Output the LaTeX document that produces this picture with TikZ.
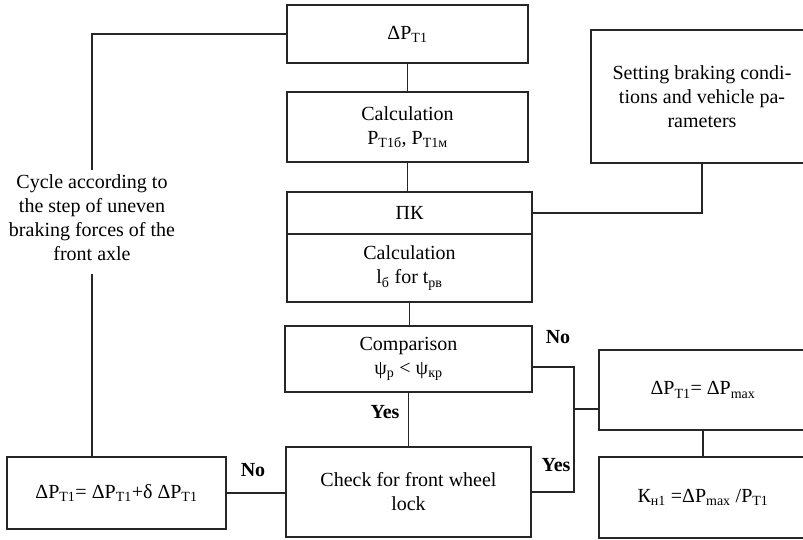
\documentclass[tikz,border=0pt]{standalone}
\usepackage{fontspec}
\setmainfont{Liberation Serif}
\usepackage{xcolor}

\begin{document}
\begin{tikzpicture}[x=1pt,y=-1pt,line width=1.4pt,draw=black!85,
        every node/.style={font=\fontsize{20}{24}\selectfont},
        blk/.style={draw=black!85,rectangle,align=center,inner sep=2pt},
        ans/.style={font=\fontsize{20}{24}\selectfont\bfseries}]
            \useasboundingbox (0,0) rectangle (803,540);
            % main column
            \node[blk,minimum width=241pt,minimum height=58pt] (dp) at (407.5,34) {ΔP\textsubscript{T1}};
            \node[blk,minimum width=241pt,minimum height=70pt] (calc1) at (407.5,127) {Calculation\\P\textsubscript{T1б}, P\textsubscript{T1м}};
            \node[blk,minimum width=245pt,minimum height=42pt] (pk) at (409.5,213) {ПК};
            \node[blk,minimum width=245pt,minimum height=68pt] (calc2) at (409.5,268) {Calculation\\l\textsubscript{б} for t\textsubscript{рв}};
            \node[blk,minimum width=247pt,minimum height=66pt] (cmp) at (408.5,359) {Comparison\\ψ\textsubscript{р} < ψ\textsubscript{кр}};
            \node[blk,minimum width=245pt,minimum height=90pt] (chk) at (408.5,492) {Check for front wheel\\lock};
            % right side
            \node[blk,minimum width=222pt,minimum height=133pt] (set) at (702,96.5) {Setting braking condi-\\tions and vehicle pa-\\rameters};
            \node[blk,minimum width=208pt,minimum height=80pt] (dmax) at (703,390) {ΔP\textsubscript{T1}= ΔP\textsubscript{max}};
            \node[blk,minimum width=208pt,minimum height=81pt] (kn) at (703,497.5) {К\textsubscript{н1} =ΔP\textsubscript{max} /P\textsubscript{T1}};
            % left side
            \node[blk,minimum width=219pt,minimum height=72pt] (dpl) at (116.5,493) {ΔP\textsubscript{T1}= ΔP\textsubscript{T1}+δ ΔP\textsubscript{T1}};
            \node[align=center,inner sep=0pt] (cyc) at (92,218) {Cycle according to\\the step of uneven\\braking forces of the\\front axle};
            \coordinate (jn) at (574,367);
            \coordinate (jm) at (574,409);
            \coordinate (jy) at (574,492);
            % connectors
            \draw (dp) -- (calc1);
            \draw (calc1.south) -- (calc1.south |- pk.north);
            \draw (calc2.south) -- (calc2.south |- cmp.north);
            \draw (cmp.south) -- (cmp.south |- chk.north);
            \draw (pk.east) -| (set.south);
            \draw (cmp.east |- jn) -- (jn) -- (jy) -- (chk.east |- jy);
            \draw (jm) -- (jm -| dmax.west);
            \draw (dmax) -- (kn);
            \draw (dpl.east) -- (dpl.east -| chk.west);
            \draw[shorten <=4pt] (cyc.north) |- (dp.west);
            \draw[shorten <=12pt] (cyc.south) -- (cyc.south |- dpl.north);
            % answers
            \node[ans] (no1) at (558,337) {No};
            \node[ans] (yes1) at (385,412) {Yes};
            \node[ans] (yes2) at (556,465) {Yes};
            \node[ans] (no2) at (253,470) {No};
        \end{tikzpicture}
\end{document}
